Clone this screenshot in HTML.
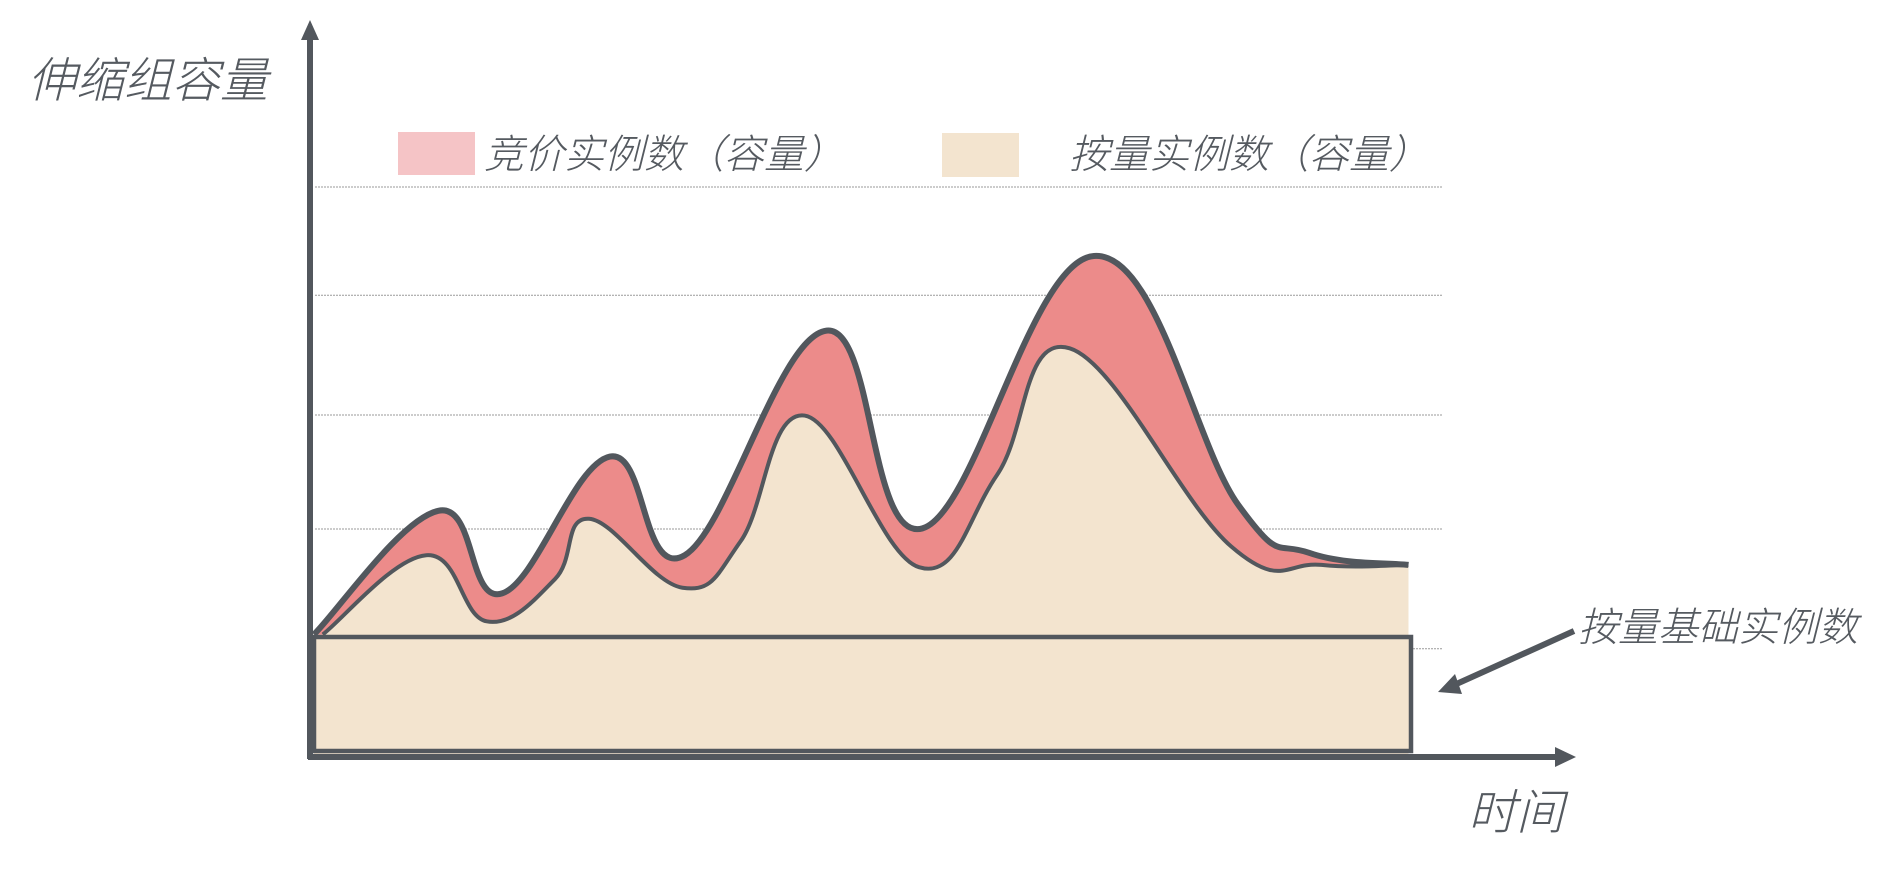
<!DOCTYPE html>
<html><head><meta charset="utf-8">
<style>
html,body{margin:0;padding:0;background:#fff;width:1884px;height:870px;overflow:hidden}
svg{display:block}
text{font-family:"Liberation Sans","Noto Sans CJK SC",sans-serif;font-weight:300;font-style:italic;fill:#555a60}
</style></head>
<body>
<svg id="chart" width="1884" height="870" viewBox="0 0 1884 870" xmlns="http://www.w3.org/2000/svg">
<g id="grid"></g>
<g id="areas"></g>
<rect x="314" y="637" width="1097" height="114" fill="#f3e4cf" stroke="#52575d" stroke-width="4.5"/>
<g>
<line x1="310" y1="32" x2="310" y2="759" stroke="#52575d" stroke-width="6"/>
<polygon points="310,20 301,40 319,40" fill="#52575d"/>
</g>
<g>
<line x1="308" y1="757" x2="1558" y2="757" stroke="#52575d" stroke-width="6"/>
<polygon points="1576,757 1555,747 1555,767" fill="#52575d"/>
</g>
<text x="28" y="97" font-size="48">伸缩组容量</text>
<text x="1468" y="829" font-size="48">时间</text>
<g>
<rect x="398" y="132" width="77" height="43" fill="#f5c4c6"/>
<text x="484" y="168" font-size="40">竞价实例数（容量）</text>
</g>
<g>
<rect x="942" y="133" width="77" height="44" fill="#f3e4cf"/>
<text x="1069" y="168" font-size="40">按量实例数（容量）</text>
</g>
<g>
<line x1="1574" y1="631" x2="1452" y2="686" stroke="#52575d" stroke-width="6"/>
<polygon points="1438,692 1455,674 1462,694" fill="#52575d"/>
<text x="1578" y="641" font-size="40">按量基础实例数</text>
</g>
</svg>
<script>
const times = [0, 11.3, 17.1, 26.9, 33.7, 46.6, 55.3, 70.9, 84.0, 90.5, 99.5];
const totalValues = [21.5, 43.2, 28.7, 52.7, 35.4, 74.8, 40.1, 87.9, 44.3, 35.8, 33.7];
const onDemandTimes = [0.8, 10.2, 15.7, 21.9, 25.0, 33.5, 38.8, 44.6, 55.0, 62.1, 68.7, 83.4, 91.6, 99.5];
const onDemandValues = [21.5, 35.4, 23.8, 31.2, 41.8, 29.7, 37.9, 59.9, 33.3, 49.5, 71.7, 36.9, 33.7, 33.7];
const gridValues = [19, 40, 60, 81, 100];

const NS = "http://www.w3.org/2000/svg";
function xScale(t){ return 314 + t * 11; }
function yScale(v){ return 757 - v * 5.7; }

function smoothPath(xs, ys){
  const p = xs.map((t,i)=>[xScale(t), yScale(ys[i])]);
  let d = "M" + p[0][0] + "," + p[0][1];
  for (let i=0;i<p.length-1;i++){
    const p0=p[Math.max(i-1,0)], p1=p[i], p2=p[i+1], p3=p[Math.min(i+2,p.length-1)];
    const k=0.2;
    const c1=[p1[0]+(p2[0]-p0[0])*k, p1[1]+(p2[1]-p0[1])*k];
    const c2=[p2[0]-(p3[0]-p1[0])*k, p2[1]-(p3[1]-p1[1])*k];
    d += " C"+c1[0]+","+c1[1]+" "+c2[0]+","+c2[1]+" "+p2[0]+","+p2[1];
  }
  return d;
}

const grid = document.getElementById("grid");
gridValues.forEach(v=>{
  const l = document.createElementNS(NS,"line");
  
  
  l.setAttribute("x1", 315); l.setAttribute("x2", 1442);
  l.setAttribute("y1", yScale(v)); l.setAttribute("y2", yScale(v));
  l.setAttribute("stroke", "#9a9a9a"); l.setAttribute("stroke-width", "1");
  l.setAttribute("stroke-dasharray", "2,1");
  grid.appendChild(l);
});

const areas = document.getElementById("areas");
const upper = smoothPath(times, totalValues);
const lower = smoothPath(onDemandTimes, onDemandValues);
const yb = 757;

const spotArea = document.createElementNS(NS,"path");


spotArea.setAttribute("d", upper + " L" + xScale(times[times.length-1]) + "," + yb + " L" + xScale(times[0]) + "," + yb + " Z");
spotArea.setAttribute("fill", "#ec8b8a");
areas.appendChild(spotArea);

const odArea = document.createElementNS(NS,"path");


odArea.setAttribute("d", lower + " L" + xScale(onDemandTimes[onDemandTimes.length-1]) + "," + yb + " L" + xScale(times[0]) + "," + yb + " L" + xScale(times[0]) + "," + yScale(totalValues[0]) + " Z");
odArea.setAttribute("fill", "#f3e4cf");
areas.appendChild(odArea);

const upLine = document.createElementNS(NS,"path");


upLine.setAttribute("d", upper);
upLine.setAttribute("fill", "none"); upLine.setAttribute("stroke", "#52575d"); upLine.setAttribute("stroke-width", "6");
areas.appendChild(upLine);

const lowLine = document.createElementNS(NS,"path");


lowLine.setAttribute("d", lower);
lowLine.setAttribute("fill", "none"); lowLine.setAttribute("stroke", "#52575d"); lowLine.setAttribute("stroke-width", "4");
areas.appendChild(lowLine);
</script>
</body></html>
